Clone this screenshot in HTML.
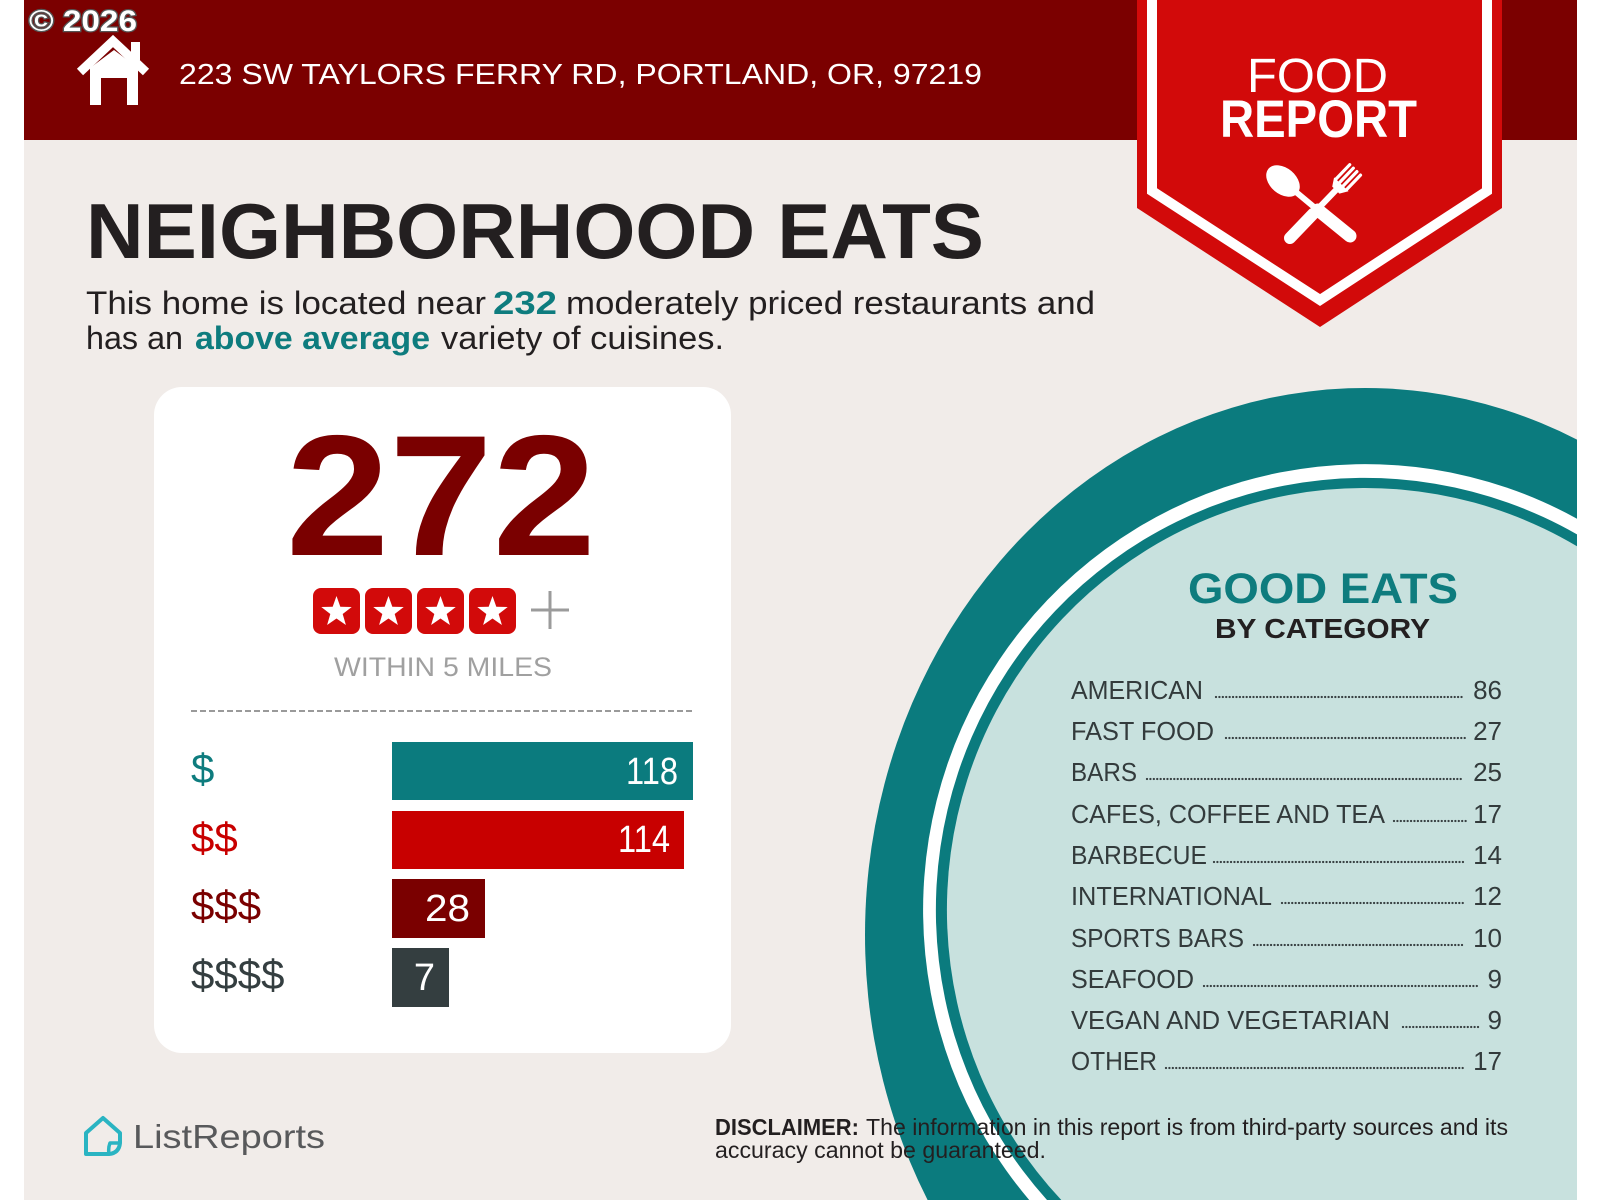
<!DOCTYPE html>
<html>
<head>
<meta charset="utf-8">
<style>
html,body{margin:0;padding:0;background:#fff;width:1600px;height:1200px;overflow:hidden;}
svg{display:block;overflow:hidden;}
</style>
</head>
<body>
<svg width="1600" height="1200" viewBox="0 0 1600 1200" xmlns="http://www.w3.org/2000/svg" font-family="'Liberation Sans', Arial, sans-serif">
  <rect width="1600" height="1200" fill="#ffffff"/>
  <rect x="24" y="0" width="1553" height="1200" fill="#f1ece9"/>
  <!-- header band -->
  <rect x="24" y="0" width="1553" height="140" fill="#7b0000"/>

  <!-- teal plate (pre-clipped paths) -->
  <path d="M1577,439.6 A500,547 0 0 0 927.6,1200 L1577,1200 Z" fill="#0b7b7e"/>
  <path d="M1577,518.7 A442,446 0 0 0 1029.2,1200 L1577,1200 Z" fill="#ffffff"/>
  <path d="M1577,534.4 A429,432 0 0 0 1047.0,1200 L1577,1200 Z" fill="#0b7b7e"/>
  <path d="M1577,546.3 A418,422 0 0 0 1061.3,1200 L1577,1200 Z" fill="#c8e1de"/>

  <!-- copyright -->
  <text x="29" y="31" font-size="30" font-weight="bold" fill="#ffffff" stroke="#555" stroke-width="2.5" paint-order="stroke" textLength="108" lengthAdjust="spacingAndGlyphs">© 2026</text>

  <!-- house icon -->
  <polyline points="80,72 113,41 146,72" fill="none" stroke="#ffffff" stroke-width="9" stroke-linejoin="miter"/>
  <rect x="131" y="42" width="9" height="18" fill="#ffffff"/>
  <path d="M90,68 L114,50 L138,68 L138,105 L127,105 L127,78 L101,78 L101,105 L90,105 Z" fill="#ffffff"/>

  <!-- address -->
  <text x="179" y="84" font-size="29" fill="#ffffff" textLength="803" lengthAdjust="spacingAndGlyphs">223 SW TAYLORS FERRY RD, PORTLAND, OR, 97219</text>

  <!-- shield -->
  <polygon points="1137,0 1502,0 1502,208 1320,327 1137,208" fill="#d20a0a"/>
  <polyline points="1152,0 1152,191 1320,300 1487,191 1487,0" fill="none" stroke="#ffffff" stroke-width="10" stroke-linejoin="miter"/>
  <text x="1247" y="92" font-size="48" fill="#ffffff" textLength="141" lengthAdjust="spacingAndGlyphs">FOOD</text>
  <text x="1220" y="137" font-size="53" font-weight="bold" fill="#ffffff" textLength="197" lengthAdjust="spacingAndGlyphs">REPORT</text>
  <!-- spoon -->
  <ellipse cx="1283" cy="181" rx="19" ry="13" transform="rotate(40 1283 181)" fill="#ffffff"/>
  <line x1="1296" y1="192" x2="1320" y2="212" stroke="#ffffff" stroke-width="6"/>
  <line x1="1318" y1="210" x2="1350" y2="236" stroke="#ffffff" stroke-width="13" stroke-linecap="round"/>
  <!-- fork -->
  <line x1="1290" y1="238" x2="1313" y2="214" stroke="#ffffff" stroke-width="12" stroke-linecap="round"/>
  <line x1="1311" y1="216" x2="1336" y2="190" stroke="#ffffff" stroke-width="6"/>
  <polygon points="1332.2,186.6 1339.4,193.6 1348.5,191.2 1334.1,177.4" fill="#ffffff"/>
  <g stroke="#ffffff" stroke-width="3.2" stroke-linecap="round">
    <line x1="1335.9" y1="179.1" x2="1349.7" y2="164.7"/>
    <line x1="1339.5" y1="182.6" x2="1353.3" y2="168.2"/>
    <line x1="1343.1" y1="186.0" x2="1356.9" y2="171.6"/>
    <line x1="1346.7" y1="189.5" x2="1360.5" y2="175.1"/>
  </g>

  <!-- title -->
  <text x="86" y="258" font-size="78" font-weight="bold" fill="#231f20" textLength="898" lengthAdjust="spacingAndGlyphs">NEIGHBORHOOD EATS</text>
  <!-- paragraph -->
  <g font-size="32" fill="#231f20">
    <text x="86" y="314" textLength="400" lengthAdjust="spacingAndGlyphs">This home is located near</text>
    <text x="493" y="314" font-weight="bold" fill="#0e7c7e" textLength="64" lengthAdjust="spacingAndGlyphs">232</text>
    <text x="566" y="314" textLength="529" lengthAdjust="spacingAndGlyphs">moderately priced restaurants and</text>
    <text x="86" y="349" textLength="97" lengthAdjust="spacingAndGlyphs">has an</text>
    <text x="195" y="349" font-weight="bold" fill="#0e7c7e" textLength="235" lengthAdjust="spacingAndGlyphs">above average</text>
    <text x="441" y="349" textLength="283" lengthAdjust="spacingAndGlyphs">variety of cuisines.</text>
  </g>

  <!-- card -->
  <rect x="154" y="387" width="577" height="666" rx="28" ry="28" fill="#ffffff"/>
  <text x="286" y="555" font-size="172" font-weight="bold" fill="#7a0000" textLength="310" lengthAdjust="spacingAndGlyphs">272</text>

  <!-- stars -->
  <g>
    <rect x="313" y="588" width="47" height="46" rx="8" fill="#d20a0a"/>
    <rect x="365" y="588" width="47" height="46" rx="8" fill="#d20a0a"/>
    <rect x="417" y="588" width="47" height="46" rx="8" fill="#d20a0a"/>
    <rect x="469" y="588" width="47" height="46" rx="8" fill="#d20a0a"/>
    <g fill="#ffffff">
      <polygon transform="translate(336.5 612)" points="0,-16 3.82,-5.26 15.22,-4.94 6.18,2.01 9.40,12.94 0,6.5 -9.40,12.94 -6.18,2.01 -15.22,-4.94 -3.82,-5.26"/>
      <polygon transform="translate(388.5 612)" points="0,-16 3.82,-5.26 15.22,-4.94 6.18,2.01 9.40,12.94 0,6.5 -9.40,12.94 -6.18,2.01 -15.22,-4.94 -3.82,-5.26"/>
      <polygon transform="translate(440.5 612)" points="0,-16 3.82,-5.26 15.22,-4.94 6.18,2.01 9.40,12.94 0,6.5 -9.40,12.94 -6.18,2.01 -15.22,-4.94 -3.82,-5.26"/>
      <polygon transform="translate(492.5 612)" points="0,-16 3.82,-5.26 15.22,-4.94 6.18,2.01 9.40,12.94 0,6.5 -9.40,12.94 -6.18,2.01 -15.22,-4.94 -3.82,-5.26"/>
    </g>
    <line x1="531" y1="610" x2="569" y2="610" stroke="#9b9b9b" stroke-width="3"/>
    <line x1="550" y1="591" x2="550" y2="629" stroke="#9b9b9b" stroke-width="3"/>
  </g>
  <text x="334" y="676" font-size="27" fill="#a0a0a0" textLength="218" lengthAdjust="spacingAndGlyphs">WITHIN 5 MILES</text>
  <line x1="191" y1="711" x2="694" y2="711" stroke="#9a9a9a" stroke-width="2" stroke-dasharray="6 3"/>

  <!-- price bars -->
  <rect x="392" y="742" width="301" height="58" fill="#0b7b7e"/>
  <rect x="392" y="811" width="292" height="58" fill="#c80000"/>
  <rect x="392" y="879" width="93" height="59" fill="#7a0000"/>
  <rect x="392" y="948" width="57" height="59" fill="#343e40"/>
  <g font-size="38" fill="#ffffff" text-anchor="end">
    <text x="678" y="784" textLength="52" lengthAdjust="spacingAndGlyphs">118</text>
    <text x="670" y="852" textLength="52" lengthAdjust="spacingAndGlyphs">114</text>
    <text x="470" y="921" textLength="45" lengthAdjust="spacingAndGlyphs">28</text>
    <text x="435" y="990">7</text>
  </g>
  <g font-size="42">
    <text x="191" y="783" fill="#0e7c7e">$</text>
    <text x="191" y="852" fill="#c80000">$$</text>
    <text x="191" y="920" fill="#7a0000">$$$</text>
    <text x="191" y="989" fill="#343e40">$$$$</text>
  </g>

  <!-- good eats -->
  <text x="1188" y="603" font-size="43" font-weight="bold" fill="#0e7c7e" textLength="270" lengthAdjust="spacingAndGlyphs">GOOD EATS</text>
  <text x="1215" y="638" font-size="28" font-weight="bold" fill="#231f20" textLength="215" lengthAdjust="spacingAndGlyphs">BY CATEGORY</text>

  <g font-size="26" fill="#333b3c">
    <text x="1071" y="699" textLength="132" lengthAdjust="spacingAndGlyphs">AMERICAN</text>
    <text x="1071" y="740" textLength="143" lengthAdjust="spacingAndGlyphs">FAST FOOD</text>
    <text x="1071" y="781" textLength="66" lengthAdjust="spacingAndGlyphs">BARS</text>
    <text x="1071" y="823" textLength="314" lengthAdjust="spacingAndGlyphs">CAFES, COFFEE AND TEA</text>
    <text x="1071" y="864" textLength="136" lengthAdjust="spacingAndGlyphs">BARBECUE</text>
    <text x="1071" y="905" textLength="201" lengthAdjust="spacingAndGlyphs">INTERNATIONAL</text>
    <text x="1071" y="947" textLength="173" lengthAdjust="spacingAndGlyphs">SPORTS BARS</text>
    <text x="1071" y="988" textLength="123" lengthAdjust="spacingAndGlyphs">SEAFOOD</text>
    <text x="1071" y="1029" textLength="319" lengthAdjust="spacingAndGlyphs">VEGAN AND VEGETARIAN</text>
    <text x="1071" y="1070" textLength="86" lengthAdjust="spacingAndGlyphs">OTHER</text>
  </g>
  <g font-size="26" fill="#333b3c" text-anchor="end">
    <text x="1502" y="699">86</text>
    <text x="1502" y="740">27</text>
    <text x="1502" y="781">25</text>
    <text x="1502" y="823">17</text>
    <text x="1502" y="864">14</text>
    <text x="1502" y="905">12</text>
    <text x="1502" y="947">10</text>
    <text x="1502" y="988">9</text>
    <text x="1502" y="1029">9</text>
    <text x="1502" y="1070">17</text>
  </g>
  <g stroke="#384042" stroke-width="2.3" stroke-linecap="round" stroke-dasharray="0.01 3.4">
    <line x1="1216" y1="697" x2="1464" y2="697"/>
    <line x1="1226" y1="738" x2="1465" y2="738"/>
    <line x1="1147" y1="779" x2="1464" y2="779"/>
    <line x1="1394" y1="821" x2="1466" y2="821"/>
    <line x1="1214" y1="862" x2="1466" y2="862"/>
    <line x1="1282" y1="903" x2="1466" y2="903"/>
    <line x1="1254" y1="945" x2="1464" y2="945"/>
    <line x1="1204" y1="986" x2="1479" y2="986"/>
    <line x1="1403" y1="1027" x2="1479" y2="1027"/>
    <line x1="1166" y1="1068" x2="1466" y2="1068"/>
  </g>

  <!-- logo -->
  <path d="M86,1133 L103,1118 L120,1133 L120,1143 Q119,1153 109,1154 L86,1154 Z" fill="none" stroke="#2ab4c2" stroke-width="4" stroke-linejoin="round"/>
  <path d="M120,1143 L110,1143 Q108,1148 109,1154" fill="none" stroke="#2ab4c2" stroke-width="3.5" stroke-linejoin="round"/>
  <text x="133" y="1148" font-size="33" fill="#58595b" textLength="192" lengthAdjust="spacingAndGlyphs">ListReports</text>

  <!-- disclaimer -->
  <g font-size="23" fill="#231f20">
    <text x="715" y="1135" font-weight="bold" textLength="144" lengthAdjust="spacingAndGlyphs">DISCLAIMER:</text>
    <text x="866" y="1135" textLength="642" lengthAdjust="spacingAndGlyphs">The information in this report is from third-party sources and its</text>
    <text x="715" y="1158" textLength="331" lengthAdjust="spacingAndGlyphs">accuracy cannot be guaranteed.</text>
  </g>
</svg>
</body>
</html>
